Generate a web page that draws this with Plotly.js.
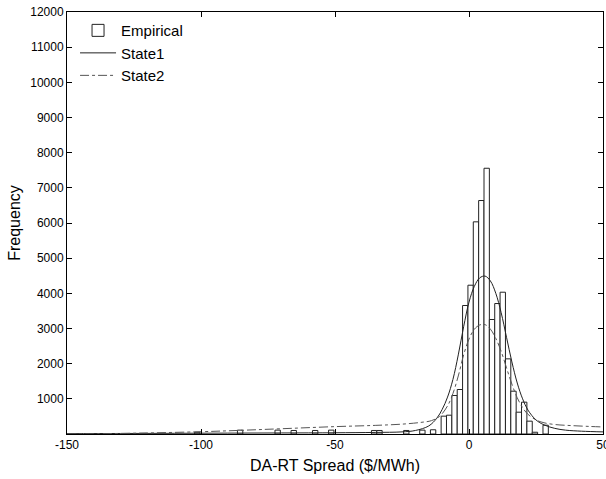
<!DOCTYPE html>
<html>
<head>
<meta charset="utf-8">
<script src="https://cdn.plot.ly/plotly-3.0.1.min.js"></script>
<style>html,body{margin:0;padding:0;background:#fff;}#chart{width:606px;height:479px;}</style>
</head>
<body>
<div id="chart"></div>
<script>
// Histogram (bin centers, width 2 $/MWh)
const binCenters = [-101.4, -85.4, -71.4, -65.4, -57.4, -51.4, -35.4, -33.4, -23.4, -17.4, -13.4,
  -9.4, -7.4, -5.4, -3.4, -1.4, 0.6, 2.6, 4.6, 6.6, 8.6, 10.6, 12.6, 14.6, 16.6, 18.6, 20.6, 22.6, 24.6, 28.6];
const binCounts = [50, 110, 110, 100, 100, 110, 100, 100, 100, 110, 120,
  507, 535, 1095, 1265, 3654, 4231, 6033, 6639, 7557, 3256, 3710, 4032, 2137, 1217, 620, 905, 365, 50, 250];

// State1 fitted curve
const state1X = [-150, -130, -110, -90, -70, -50, -35, -25, -20, -15, -12, -10, -8, -6, -4, -2, 0, 2, 4, 6, 8, 10, 12, 14, 16, 18, 20, 22, 25, 28, 32, 36, 42, 50];
const state1Y = [10, 15, 20, 25, 30, 35, 45, 60, 100, 230, 450, 700, 1050, 1550, 2250, 3050, 3750, 4200, 4440, 4490, 4350, 4000, 3450, 2750, 2050, 1450, 1000, 680, 400, 260, 160, 110, 80, 60];

// State2 fitted curve
const state2X = [-150, -140, -120, -100, -85, -70, -50, -35, -25, -18, -14, -11, -8, -6, -4, -2, 0, 2, 4, 6, 8, 10, 12, 14, 16, 18, 20, 22, 25, 28, 32, 38, 45, 50];
const state2Y = [0, 5, 30, 65, 105, 150, 210, 245, 280, 330, 380, 500, 800, 1150, 1650, 2250, 2700, 2980, 3100, 3110, 2980, 2720, 2350, 1880, 1420, 1030, 750, 560, 400, 320, 270, 240, 215, 200];

const xTicks = [-150, -100, -50, 0, 50];
const yTicks = [1000, 2000, 3000, 4000, 5000, 6000, 7000, 8000, 9000, 10000, 11000, 12000];

const traces = [
  {type: 'bar', name: 'Empirical', x: binCenters, y: binCounts, width: 2,
   marker: {color: '#ffffff', line: {color: '#222222', width: 1}}},
  {type: 'scatter', mode: 'lines', name: 'State1', x: state1X, y: state1Y,
   line: {color: '#222222', width: 1, shape: 'spline', smoothing: 1}},
  {type: 'scatter', mode: 'lines', name: 'State2', x: state2X, y: state2Y,
   line: {color: '#555555', width: 1, dash: 'dashdot', shape: 'spline', smoothing: 1}}
];

const axisCommon = {
  showgrid: false, zeroline: false, showline: true, linecolor: '#000', linewidth: 1,
  mirror: 'allticks', ticks: 'inside', ticklen: 5, tickcolor: '#000',
  ticklabeloverflow: 'allow',
  tickfont: {family: 'Liberation Sans, Arial, sans-serif', size: 12, color: '#000'}
};

const layout = {
  width: 606, height: 479,
  margin: {l: 67, r: 3, t: 12, b: 45},
  paper_bgcolor: '#fff', plot_bgcolor: '#fff',
  bargap: 0,
  font: {family: 'Liberation Sans, Arial, sans-serif', color: '#000'},
  xaxis: Object.assign({}, axisCommon, {
    range: [-150, 50], tickvals: xTicks, ticktext: xTicks.map(String),
    title: {text: 'DA-RT Spread ($/MWh)', font: {size: 16, color: '#000'}, standoff: 8}
  }),
  yaxis: Object.assign({}, axisCommon, {
    range: [0, 12000], tickvals: yTicks, ticktext: yTicks.map(String),
    title: {text: 'Frequency', font: {size: 16, color: '#000'}, standoff: 5}
  }),
  showlegend: true,
  legend: {x: 0.015, y: 0.995, xanchor: 'left', yanchor: 'top', bgcolor: 'rgba(255,255,255,0)',
    borderwidth: 0, font: {size: 15, color: '#000'}, tracegroupgap: 0, itemwidth: 36},
};

Plotly.newPlot('chart', traces, layout, {displayModeBar: false, staticPlot: true});
</script>
</body>
</html>
